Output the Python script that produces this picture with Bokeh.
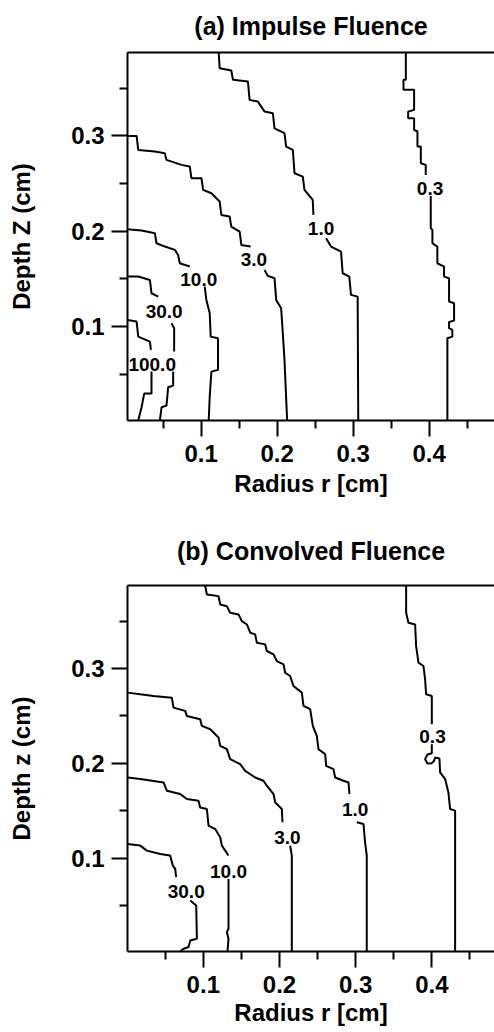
import math
from bokeh.plotting import figure
from bokeh.models import FixedTicker, LinearAxis, Range1d, ColumnDataSource
from bokeh.layouts import column
from bokeh.embed import file_html
from bokeh.resources import INLINE
from bokeh.core.properties import value

nan = float("nan")
GAP = (nan, nan)

# ---------------- axes ----------------
R_MAJOR = [0.1, 0.2, 0.3, 0.4]
R_MINOR = [0.05, 0.15, 0.25, 0.35, 0.45]
Z_MAJOR = [0.1, 0.2, 0.3]
Z_MINOR = [0.05, 0.15, 0.25, 0.35]

A_R_RANGE = (0.003, 0.486)
B_R_RANGE = (0.0005, 0.4823)
Z_RANGE = (0.0015, 0.3876)

# ---------------- (a) Impulse Fluence : contour vertices (r, z) ----------------
A_C03 = [(0.3693, 0.3876), (0.3693, 0.3589), (0.3662, 0.3589), (0.3662, 0.3484), (0.3802, 0.3484),
         (0.3802, 0.3274), (0.3724, 0.3256), (0.3724, 0.3186), (0.3802, 0.3186), (0.3802, 0.3064),
         (0.3846, 0.3047), (0.3846, 0.2889), (0.3890, 0.2889), (0.3890, 0.2714), (0.3955, 0.2697),
         (0.3955, 0.2592), GAP, (0.4021, 0.2371), (0.4021, 0.2032), (0.4043, 0.2015), (0.4043, 0.1875),
         (0.4108, 0.1840), (0.4108, 0.1665), (0.4196, 0.1630), (0.4196, 0.1525), (0.4262, 0.1508),
         (0.4262, 0.1263), (0.4328, 0.1245), (0.4328, 0.1063), (0.4262, 0.1049), (0.4262, 0.0983),
         (0.4305, 0.0965), (0.4305, 0.0895), (0.4240, 0.0878), (0.4240, 0.0015)]
A_C1 = [(0.1230, 0.3876), (0.1243, 0.3711), (0.1396, 0.3687), (0.1418, 0.3589), (0.1615, 0.3571),
        (0.1637, 0.3379), (0.1746, 0.3361), (0.1834, 0.3256), (0.1943, 0.3239), (0.1965, 0.3081),
        (0.2096, 0.3029), (0.2118, 0.2889), (0.2206, 0.2854), (0.2228, 0.2609), (0.2337, 0.2574),
        (0.2359, 0.2434), (0.2468, 0.2329), (0.2477, 0.2172), GAP, (0.2643, 0.1927), (0.2709, 0.1840),
        (0.2840, 0.1787), (0.2862, 0.1560), (0.2949, 0.1525), (0.2971, 0.1333), (0.3059, 0.1315),
        (0.3067, 0.0015)]
A_C3 = [(0.003, 0.3001), (0.0150, 0.3001), (0.0171, 0.2854), (0.0390, 0.2837), (0.0521, 0.2819),
        (0.0543, 0.2749), (0.0740, 0.2697), (0.0850, 0.2679), (0.0871, 0.2557), (0.1003, 0.2557),
        (0.1025, 0.2434), (0.1134, 0.2399), (0.1243, 0.2312), (0.1265, 0.2172), (0.1374, 0.2155),
        (0.1396, 0.2050), (0.1506, 0.1997), (0.1528, 0.1857), (0.1650, 0.1840), GAP, (0.1834, 0.1595),
        (0.1877, 0.1532), (0.1965, 0.1508), (0.1987, 0.1280), (0.2052, 0.1193), (0.2074, 0.0930),
        (0.2096, 0.0651), (0.2131, 0.0015)]
A_C10 = [(0.003, 0.2022), (0.0215, 0.2008), (0.0390, 0.1980), (0.0412, 0.1875), (0.0521, 0.1840),
         (0.0653, 0.1805), (0.0696, 0.1752), (0.0718, 0.1665), (0.0850, 0.1630), GAP, (0.1046, 0.1420),
         (0.1068, 0.1280), (0.1112, 0.1140), (0.1125, 0.0895), (0.1221, 0.0878), (0.1221, 0.0546),
         (0.1134, 0.0528), (0.1112, 0.0266), (0.1099, 0.0015)]
A_C30 = [(0.003, 0.1525), (0.0171, 0.1525), (0.0325, 0.1490), (0.0346, 0.1350), (0.0434, 0.1315), GAP,
         (0.0609, 0.1035), (0.0644, 0.0983), (0.0644, 0.0738), GAP, (0.0631, 0.0528), (0.0631, 0.0381),
         (0.0565, 0.0364), (0.0543, 0.0171), (0.0478, 0.0154), (0.0456, 0.0015)]
A_C100 = [(0.003, 0.1070), (0.0150, 0.1053), (0.0171, 0.0895), (0.0325, 0.0843), (0.0338, 0.0756), GAP,
          (0.0346, 0.0528), (0.0346, 0.0297), (0.0250, 0.0297), (0.0215, 0.0154), (0.0171, 0.0015)]
A_LABEL_TEXT = ["0.3", "1.0", "3.0", "10.0", "30.0", "100.0"]
A_LABEL_R = [0.4012, 0.2577, 0.1694, 0.0968, 0.0513, 0.0355]
A_LABEL_Z = [0.2452, 0.2032, 0.1700, 0.1490, 0.1158, 0.0598]

# ---------------- (b) Convolved Fluence : contour vertices (r, z) ----------------
B_C03 = [(0.3663, 0.3876), (0.3663, 0.3588), (0.3693, 0.3483), (0.3781, 0.3465), (0.3794, 0.3237),
         (0.3825, 0.3062), (0.3890, 0.3027), (0.3912, 0.2886), (0.3925, 0.2728), (0.4000, 0.2711),
         (0.4000, 0.2413), GAP, (0.4000, 0.2202), (0.4000, 0.2107), (0.3943, 0.2093), (0.3912, 0.2044),
         (0.3943, 0.1999), (0.4000, 0.2002), (0.4030, 0.2027), (0.4043, 0.2062), (0.4100, 0.2051),
         (0.4109, 0.1904), (0.4175, 0.1834), (0.4218, 0.1693), (0.4240, 0.1518), (0.4306, 0.1501),
         (0.4306, 0.0015)]
B_C1 = [(0.1025, 0.3876), (0.1047, 0.3781), (0.1200, 0.3764), (0.1222, 0.3676), (0.1309, 0.3658),
        (0.1353, 0.3588), (0.1462, 0.3571), (0.1506, 0.3500), (0.1572, 0.3465), (0.1616, 0.3378),
        (0.1681, 0.3360), (0.1703, 0.3272), (0.1812, 0.3255), (0.1834, 0.3185), (0.1922, 0.3149),
        (0.1965, 0.3079), (0.2053, 0.3044), (0.2075, 0.2956), (0.2140, 0.2921), (0.2184, 0.2816),
        (0.2294, 0.2746), (0.2315, 0.2606), (0.2403, 0.2571), (0.2438, 0.2395), (0.2490, 0.2290),
        (0.2512, 0.2149), (0.2600, 0.2097), (0.2613, 0.1974), (0.2709, 0.1939), (0.2731, 0.1851),
        (0.2840, 0.1816), (0.2906, 0.1798), (0.2919, 0.1676), GAP, (0.3015, 0.1378), (0.3103, 0.1360),
        (0.3124, 0.1167), (0.3146, 0.1027), (0.3146, 0.0015)]
B_C3 = [(0.0005, 0.2746), (0.0172, 0.2728), (0.0347, 0.2711), (0.0587, 0.2693), (0.0609, 0.2588),
        (0.0762, 0.2553), (0.0784, 0.2500), (0.0959, 0.2465), (0.0981, 0.2395), (0.1091, 0.2360),
        (0.1200, 0.2272), (0.1222, 0.2185), (0.1309, 0.2150), (0.1353, 0.2044), (0.1484, 0.1992),
        (0.1550, 0.1921), (0.1681, 0.1851), (0.1790, 0.1816), (0.1834, 0.1764), (0.1922, 0.1676),
        (0.1944, 0.1588), (0.2031, 0.1518), (0.2040, 0.1378), GAP, (0.2140, 0.1132), (0.2162, 0.1027),
        (0.2162, 0.0015)]
B_C10 = [(0.0005, 0.1851), (0.0172, 0.1834), (0.0478, 0.1798), (0.0522, 0.1711), (0.0697, 0.1676),
         (0.0784, 0.1623), (0.0937, 0.1606), (0.0959, 0.1535), (0.1047, 0.1518), (0.1069, 0.1342),
         (0.1156, 0.1307), (0.1222, 0.1220), (0.1244, 0.1132), (0.1331, 0.1027), GAP, (0.1331, 0.0781),
         (0.1331, 0.0255), (0.1309, 0.0219), (0.1331, 0.0149), (0.1318, 0.0015)]
B_C30 = [(0.0005, 0.1149), (0.0172, 0.1132), (0.0259, 0.1079), (0.0434, 0.1044), (0.0565, 0.1027),
         (0.0600, 0.0921), (0.0631, 0.0886), (0.0644, 0.0799), GAP, (0.0829, 0.0553), (0.0907, 0.0501),
         (0.0916, 0.0149), (0.0829, 0.0132), (0.0807, 0.0062), (0.0741, 0.0044), (0.0697, 0.0015)]
B_LABEL_TEXT = ["0.3", "1.0", "3.0", "10.0", "30.0"]
B_LABEL_R = [0.4009, 0.2993, 0.2105, 0.1331, 0.0776]
B_LABEL_Z = [0.2283, 0.1518, 0.1220, 0.0858, 0.0648]

FONT = "Liberation Sans"


def make_panel(title, ylabel, contours, lab_text, lab_r, lab_z, r_range, height,
               border_left, border_top, border_bottom, title_standoff, title_valign,
               xtick_standoff, xlabel_standoff):
    p = figure(width=494, height=height,
               x_range=Range1d(*r_range), y_range=Range1d(*Z_RANGE),
               output_backend="svg", toolbar_location=None,
               min_border_left=border_left, min_border_right=0,
               min_border_top=border_top, min_border_bottom=border_bottom,
               background_fill_color="white", border_fill_color="white")
    p.outline_line_color = None
    p.xgrid.visible = False
    p.ygrid.visible = False

    p.title.text = title
    p.title.text_font = FONT
    p.title.text_font_size = "25px"
    p.title.text_font_style = "bold"
    p.title.text_color = "black"
    p.title.align = "center"
    p.title.vertical_align = title_valign
    p.title.standoff = title_standoff

    for ax in (p.xaxis[0], p.yaxis[0]):
        ax.axis_line_width = 2
        ax.axis_line_color = "black"
        ax.major_tick_line_width = 2
        ax.minor_tick_line_width = 2
        ax.major_tick_in = 0
        ax.major_tick_out = 16
        ax.minor_tick_in = 0
        ax.minor_tick_out = 8
        ax.major_label_text_font = FONT
        ax.major_label_text_font_size = "24px"
        ax.major_label_text_font_style = "bold"
        ax.major_label_text_color = "black"
        ax.axis_label_text_font = FONT
        ax.axis_label_text_font_size = "24px"
        ax.axis_label_text_font_style = "bold"
        ax.axis_label_text_color = "black"

    p.xaxis.ticker = FixedTicker(ticks=R_MAJOR, minor_ticks=R_MINOR)
    p.yaxis.ticker = FixedTicker(ticks=Z_MAJOR, minor_ticks=Z_MINOR)
    p.xaxis.axis_label = "Radius r [cm]"
    p.yaxis.axis_label = ylabel
    p.xaxis.major_label_standoff = xtick_standoff
    p.xaxis.axis_label_standoff = xlabel_standoff
    p.yaxis.major_label_standoff = 7
    p.yaxis.axis_label_standoff = 33

    top = LinearAxis(ticker=FixedTicker(ticks=[]), axis_line_width=2, axis_line_color="black",
                     major_tick_line_color=None, minor_tick_line_color=None,
                     major_tick_out=0, minor_tick_out=0, major_label_standoff=0,
                     major_label_text_font_size="0px")
    p.add_layout(top, "above")

    for pts in contours:
        src = ColumnDataSource(dict(r=[a for a, b in pts], z=[b for a, b in pts]))
        p.line("r", "z", source=src, line_color="black", line_width=2)

    lsrc = ColumnDataSource(dict(r=lab_r, z=lab_z, t=lab_text))
    p.text("r", "z", text="t", source=lsrc, text_font=value(FONT), text_font_size="19px",
           text_font_style="bold", text_align="center", text_baseline="middle",
           text_color="black")
    return p


pa = make_panel("(a) Impulse Fluence", "Depth Z (cm)",
                [A_C03, A_C1, A_C3, A_C10, A_C30, A_C100],
                A_LABEL_TEXT, A_LABEL_R, A_LABEL_Z, A_R_RANGE,
                height=510, border_left=126, border_top=52, border_bottom=90,
                title_standoff=21, title_valign="top", xtick_standoff=8, xlabel_standoff=5)
pb = make_panel("(b) Convolved Fluence", "Depth z (cm)",
                [B_C03, B_C1, B_C3, B_C10, B_C30],
                B_LABEL_TEXT, B_LABEL_R, B_LABEL_Z, B_R_RANGE,
                height=522, border_left=127, border_top=75, border_bottom=81,
                title_standoff=42, title_valign="bottom", xtick_standoff=8, xlabel_standoff=3)

layout = column(pa, pb, spacing=0)
open("out.html", "w").write(file_html(layout, INLINE))
